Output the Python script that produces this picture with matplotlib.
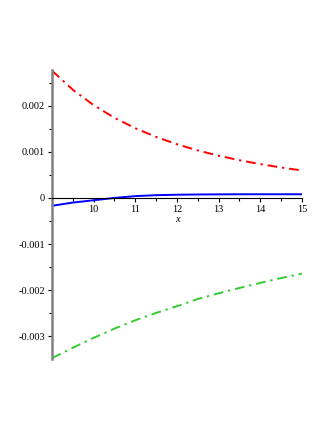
import numpy as np
import matplotlib
matplotlib.use("Agg")
import matplotlib.pyplot as plt
from matplotlib.ticker import MultipleLocator, FixedLocator

plt.rcParams['font.family'] = ['Liberation Serif', 'DejaVu Serif']
plt.rcParams['axes.unicode_minus'] = False

# values at half-unit steps of x
x = [9, 9.5, 10, 10.5, 11, 11.5, 12, 12.5, 13, 13.5, 14, 14.5, 15]
red = [0.002757, 0.002344, 0.00201, 0.001736, 0.00151, 0.001322, 0.001163,
       0.001029, 0.000915, 0.000817, 0.000733, 0.000659, 0.000596]
green = [-0.00347, -0.003245, -0.00303, -0.00283, -0.00265, -0.00249, -0.002345,
         -0.00219, -0.002065, -0.00195, -0.00184, -0.001735, -0.00164]
blue = [-0.00017, -0.00010, -0.00005, 0.0, 0.00004, 0.00006, 0.00007,
        0.000075, 0.000078, 0.00008, 0.00008, 0.00008, 0.00008]

yticks = [-0.003, -0.002, -0.001, 0, 0.001, 0.002]
ylabels = ['-0.003', '-0.002', '-0.001', '0', '0.001', '0.002']
xticks = [10, 11, 12, 13, 14, 15]

fig = plt.figure(figsize=(3.32, 4.30), dpi=100)
ax = fig.add_axes([0.1566, 0.165, 0.753, 0.672])

ax.plot(x, red, color='#ff0000', lw=1.4, dashes=[5, 2.5, 1.2, 2.5])
ax.plot(x, green, color='#33cc33', lw=1.4, dashes=[5, 2.5, 1.2, 2.5])
ax.plot(x, blue, color='#0000ff', lw=1.4)

ax.set_xlim(9, 15)
ax.set_ylim(-0.00349, 0.00277)

ax.spines['top'].set_visible(False)
ax.spines['right'].set_visible(False)
ax.spines['bottom'].set_position(('data', 0))
ax.spines['bottom'].set_linewidth(0.8)
ax.spines['left'].set_color('#808080')
ax.spines['left'].set_linewidth(1.8)

ax.xaxis.set_major_locator(FixedLocator(xticks))
ax.xaxis.set_minor_locator(MultipleLocator(0.5))
ax.yaxis.set_major_locator(FixedLocator(yticks))
ax.set_yticklabels(ylabels)
ax.yaxis.set_minor_locator(MultipleLocator(0.0005))

ax.tick_params(axis='both', which='major', length=3, width=0.8, labelsize=7.5, pad=2)
ax.tick_params(axis='both', which='minor', length=2, width=0.8)
ax.set_xlabel('x', fontstyle='italic', fontsize=7.5, labelpad=1)

fig.savefig('out.png', dpi=100)
